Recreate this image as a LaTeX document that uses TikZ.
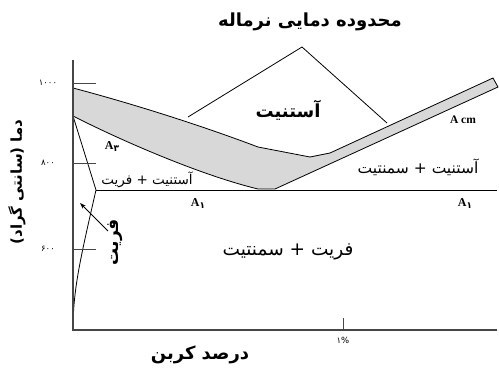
\documentclass[tikz,border=0pt]{standalone}
\usepackage{fontspec}
\setmainfont{Liberation Serif}
\newfontfamily\fa[Script=Arabic]{DejaVu Sans}
\TeXXeTstate=1
\usetikzlibrary{arrows.meta}
\definecolor{bandgray}{RGB}{216,216,216}
\definecolor{axisgray}{RGB}{70,70,70}
\tikzset{
  curve/.style={line width=0.8pt, black},
  axisline/.style={line width=1.3pt, axisgray},
  tick/.style={line width=0.9pt, axisgray},
  ticklabel/.style={font=\fa\fontsize{8.5}{9}\selectfont, inner sep=0pt},
  falabel/.style={inner sep=0pt},
  alabel/.style={font=\bfseries\fontsize{12}{14}\selectfont, inner sep=0pt},
}
\newcommand{\asub}[1]{\raisebox{-0.35ex}{\fa\fontsize{9}{10}\selectfont #1}}
\begin{document}
\begin{tikzpicture}[x=1pt,y=-1pt]
\useasboundingbox (0,0) rectangle (499,374);
% key coordinates
\coordinate (ytop) at (73,60);
\coordinate (orig) at (73,330);
\coordinate (xend) at (497,330);
\coordinate (u0) at (73,88);
\coordinate (l0) at (73,116);
\coordinate (corner) at (96,190);
\coordinate (a1end) at (497,190);
% band
\fill[bandgray] (u0) .. controls (130,103) and (200,125) .. (258,147) -- (310,157) -- (330,153) -- (493,78) -- (498,87) -- (275,189) -- (258,189) .. controls (200,175) and (120,140) .. (l0) -- cycle;
\draw[curve] (u0) .. controls (130,103) and (200,125) .. (258,147) -- (310,157) -- (330,153) -- (493,78) -- (498,87) -- (275,189) -- (258,189) .. controls (200,175) and (120,140) .. (l0);
% ferrite lines
\draw[curve] (l0) -- (corner) .. controls (80,260) and (73,290) .. (73,330);
\draw[curve] (corner) -- (a1end);
% axes
\draw[axisline] (ytop) -- (orig) -- (xend);
% ticks
\coordinate (t1000) at (73,83);
\coordinate (t800) at (73,163);
\coordinate (t600) at (73,249);
\draw[tick] (t1000) -- ++(23,0);
\draw[tick] (t800) -- ++(23,0);
\draw[tick] (t600) -- ++(23,0);
\draw[tick] (343,330) -- (343,318);
\node[ticklabel] (l1000) at (48,83) {۱۰۰۰};
\node[ticklabel] (l800) at (48,163) {۸۰۰};
\node[ticklabel] (l600) at (48,249) {۶۰۰};
\node[ticklabel] (l1pc) at (343,340) {۱\%};
% title and pointer
\node[falabel, font=\fa\bfseries\fontsize{18}{20}\selectfont] (title) at (310,22) {\beginR محدوده دمایی نرماله\endR};
\coordinate (apex) at (302,47);
\coordinate (pl) at (188,117);
\coordinate (pr) at (387,123);
\draw[curve] (pl) -- (apex) -- (pr);
% region labels
\node[falabel, font=\fa\bfseries\fontsize{18}{20}\selectfont] (aust) at (288,110) {\beginR آستنیت\endR};
\node[falabel, font=\fa\fontsize{15.5}{17}\selectfont] (austcem) at (418,167) {\beginR آستنیت + سمنتیت\endR};
\node[falabel, font=\fa\fontsize{13.5}{15}\selectfont] (austfer) at (147,180) {\beginR آستنیت + فریت\endR};
\node[falabel, font=\fa\fontsize{18.5}{20}\selectfont] (fercem) at (288,252) {\beginR فریت + سمنتیت\endR};
\node[falabel, font=\fa\bfseries\fontsize{17}{19}\selectfont, rotate=90] (ferr) at (115,242) {\beginR فریت\endR};
\coordinate (arrs) at (108,231);
\coordinate (arre) at (80,203);
\draw[curve, -{Stealth[length=6pt,width=4pt]}] (arrs) -- (arre);
% axis titles
\node[falabel, font=\fa\bfseries\fontsize{15}{17}\selectfont, rotate=90] (ylab) at (17,182) {\beginR دما (سانتی گراد)\endR};
\node[falabel, font=\fa\bfseries\fontsize{18}{20}\selectfont] (xlab) at (200,355) {\beginR درصد کربن\endR};
% A labels
\node[alabel] (a3) at (112,147) {A\asub{۳}};
\node[alabel] (a1l) at (198,204) {A\asub{۱}};
\node[alabel] (a1r) at (465,204) {A\asub{۱}};
\node[alabel, font=\bfseries\fontsize{11.5}{13}\selectfont] (acm) at (463,120) {A cm};
\end{tikzpicture}
\end{document}
